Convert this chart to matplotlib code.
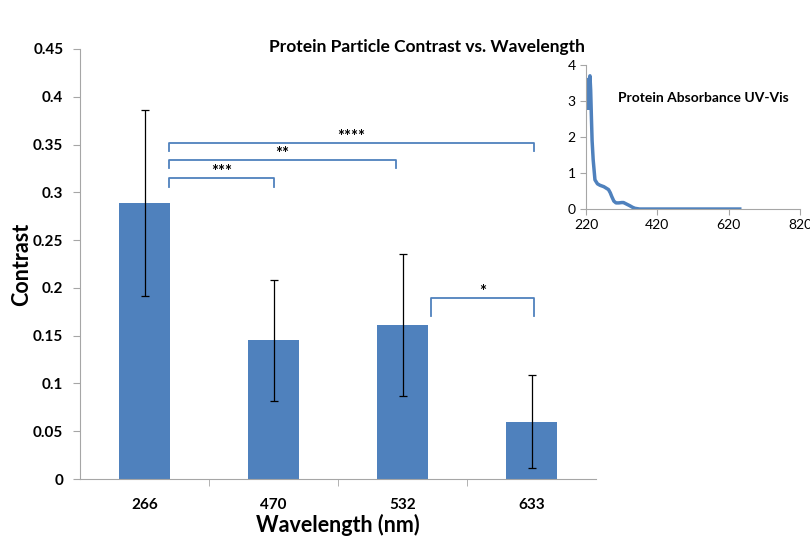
import matplotlib
matplotlib.use("Agg")
import matplotlib.pyplot as plt
import numpy as np

plt.rcParams['font.family'] = ['Lato', 'DejaVu Sans']

# main bar chart data
wavelengths = ["266", "470", "532", "633"]
contrast = [0.289, 0.145, 0.161, 0.060]
contrast_err = [0.097, 0.063, 0.074, 0.049]

# significance brackets: (x start, x end, height, label)
brackets = [
    (0.19, 1.0, 0.315, "***"),
    (0.19, 1.95, 0.334, "**"),
    (0.19, 3.02, 0.352, "****"),
    (2.22, 3.02, 0.189, "*"),
]

# inset absorbance spectrum
abs_nm = [222, 224, 226, 228, 230, 231, 233, 235, 237, 240, 245, 252, 259,
          270, 283, 288, 292, 298, 304, 312, 320, 325, 333, 343, 350, 357,
          370, 400, 500, 651]
abs_val = [3.5, 2.8, 3.6, 2.8, 3.6, 3.7, 3.3, 2.57, 1.9, 1.37, 0.81, 0.7,
           0.66, 0.62, 0.54, 0.45, 0.35, 0.22, 0.17, 0.17, 0.18, 0.18, 0.14,
           0.09, 0.05, 0.02, 0.0, 0.0, 0.0, 0.0]

blue = "#4F81BD"
grey = "#A6A6A6"

fig = plt.figure(figsize=(8.1, 5.39), dpi=100)
ax = fig.add_axes([0.0988, 0.1113, 0.637, 0.7978])

x = np.arange(len(wavelengths))
ax.bar(x, contrast, width=0.4, color=blue, zorder=2)
ax.errorbar(x, contrast, yerr=contrast_err, fmt="none", ecolor="black",
            elinewidth=0.9, capsize=3, capthick=0.9, zorder=3)

for x0, x1, h, lab in brackets:
    drop = 0.009 if lab != "*" else 0.018
    ax.plot([x0, x0, x1, x1], [h - drop, h, h, h - drop], color=blue,
            lw=1.3, solid_joinstyle="round", zorder=3)
    ax.text((x0 + x1) / 2, h - 0.002, lab, ha="center", va="bottom",
            fontsize=12, fontweight="bold")

ax.set_xlim(-0.5, 3.5)
ax.set_ylim(0, 0.45)
ax.set_yticks(np.arange(0, 0.451, 0.05))
ax.set_yticklabels(["0", "0.05", "0.1", "0.15", "0.2", "0.25", "0.3",
                    "0.35", "0.4", "0.45"])
ax.set_xticks(x)
ax.set_xticklabels(wavelengths)
ax.set_xticks([0.5, 1.5, 2.5], minor=True)
ax.tick_params(axis="x", which="major", length=0, pad=14)
ax.tick_params(axis="x", which="minor", length=5, color=grey, direction="out")
ax.tick_params(axis="y", length=5, color=grey, direction="out", pad=7)
for lab in ax.get_xticklabels() + ax.get_yticklabels():
    lab.set_fontweight("bold")
    lab.set_fontsize(11)

for s in ["top", "right"]:
    ax.spines[s].set_visible(False)
for s in ["left", "bottom"]:
    ax.spines[s].set_color(grey)

ax.set_xlabel("Wavelength (nm)", fontsize=15.5, fontweight="bold", labelpad=1)
ax.set_ylabel("Contrast", fontsize=15.5, fontweight="bold")
ax.yaxis.set_label_coords(-0.092, 0.5)
fig.text(0.527, 0.913, "Protein Particle Contrast vs. Wavelength",
         ha="center", va="center", fontsize=12.5, fontweight="bold")

# inset
ins = fig.add_axes([0.7235, 0.6122, 0.2642, 0.2672])
ins.plot(abs_nm, abs_val, color=blue, lw=2.5)
ins.set_xlim(220, 820)
ins.set_ylim(0, 4)
ins.set_xticks([220, 420, 620, 820])
ins.set_yticks([0, 1, 2, 3, 4])
ins.tick_params(length=4, color=grey, labelsize=10)
for s in ["top", "right"]:
    ins.spines[s].set_visible(False)
for s in ["left", "bottom"]:
    ins.spines[s].set_color(grey)
ins.text(0.15, 0.77, "Protein Absorbance UV-Vis", transform=ins.transAxes,
         fontsize=10, fontweight="bold", va="center")

fig.savefig("out.png", dpi=100)
